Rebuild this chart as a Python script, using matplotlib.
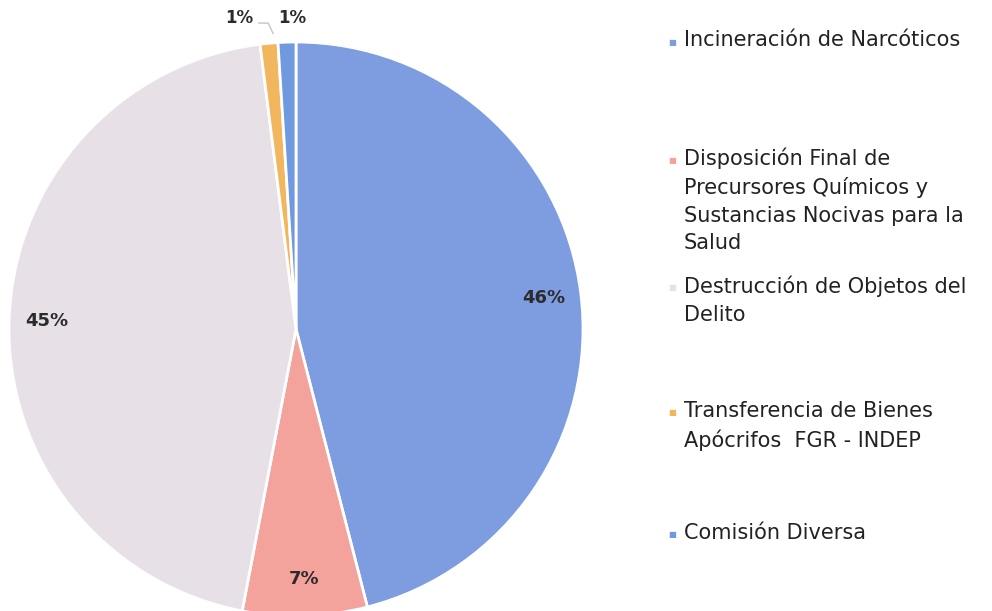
import matplotlib
matplotlib.use("Agg")
import matplotlib.pyplot as plt

categories = [
    "Incineración de Narcóticos",
    "Disposición Final de\nPrecursores Químicos y\nSustancias Nocivas para la\nSalud",
    "Destrucción de Objetos del\nDelito",
    "Transferencia de Bienes\nApócrifos  FGR - INDEP",
    "Comisión Diversa",
]
shares = [46, 7, 45, 1, 1]
colors = ["#7d9de0", "#f4a29c", "#e7e1e7", "#f2b65e", "#6f9ae0"]

plt.rcParams["font.family"] = ["DejaVu Sans"]

fig = plt.figure(figsize=(9.92, 6.11), dpi=100)
ax = fig.add_axes([9 / 992, -5 / 611, 574 / 992, 574 / 611])

wedges, texts, autotexts = ax.pie(
    shares,
    colors=colors,
    startangle=90,
    counterclock=False,
    autopct=lambda p: f"{p:.0f}%",
    pctdistance=0.87,
    wedgeprops=dict(edgecolor="white", linewidth=2),
    textprops=dict(fontsize=13, color="#2b2b2b", fontweight="bold"),
)
ax.set_xlim(-1, 1)
ax.set_ylim(-1, 1)
ax.set_aspect("equal")
ax.axis("off")

# small slices: labels above the pie, with a leader for the orange one
autotexts[3].set_position((-0.199, 1.084))
autotexts[4].set_position((-0.014, 1.084))
for t in autotexts[3:]:
    t.set_fontsize(12)
    t.set_clip_on(False)
ax.plot([-0.13, -0.097, -0.08], [1.066, 1.066, 1.03], color="#c4c4c4", lw=1, clip_on=False)

# legend on the right
legend_y = [42, 160, 288, 413, 535]
for cat, col, y in zip(categories, colors, legend_y):
    fy = 1 - y / 611
    fig.text(672 / 992, fy, "\u25a0", color=col, fontsize=6, va="center", ha="center")
    fig.text(684 / 992, fy + 0.02, cat, fontsize=15, color="#222222",
             va="top", ha="left", linespacing=1.47)

fig.savefig("out.png", dpi=100, facecolor="white")
